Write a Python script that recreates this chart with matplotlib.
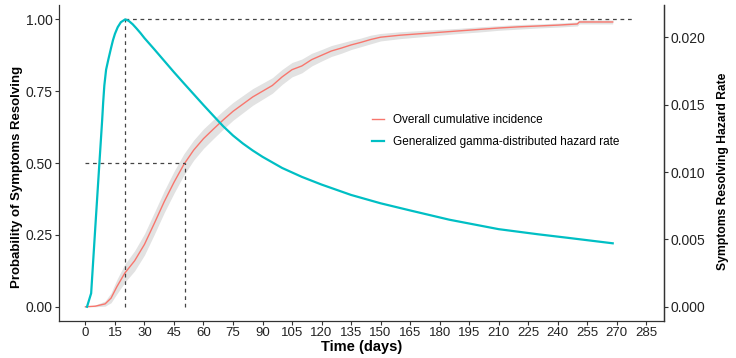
import matplotlib
matplotlib.use("Agg")
import matplotlib.pyplot as plt
from matplotlib.lines import Line2D

plt.rcParams["font.family"] = ["Liberation Sans", "DejaVu Sans"]

# Curva de incidência cumulativa
ci_days = [0, 5, 10, 13, 16, 20, 25, 30, 35, 40, 45, 50, 55, 60, 65, 70, 75, 80,
           85, 90, 95, 100, 105, 110, 115, 120, 125, 130, 135, 140, 145, 150,
           160, 170, 180, 190, 200, 210, 220, 230, 240, 250, 251, 268]
ci_value = [0.0, 0.002, 0.01, 0.03, 0.07, 0.117, 0.16, 0.217, 0.29, 0.365, 0.433,
            0.495, 0.545, 0.585, 0.618, 0.65, 0.68, 0.705, 0.73, 0.75, 0.77, 0.80,
            0.825, 0.838, 0.86, 0.875, 0.89, 0.90, 0.911, 0.92, 0.93, 0.938,
            0.945, 0.95, 0.955, 0.96, 0.965, 0.97, 0.974, 0.977, 0.98, 0.984,
            0.991, 0.991]
ci_lower = [0.0, 0.0, 0.002, 0.014, 0.045, 0.085, 0.125, 0.18, 0.252, 0.327,
            0.395, 0.458, 0.51, 0.551, 0.585, 0.618, 0.649, 0.675, 0.701, 0.722,
            0.743, 0.774, 0.8, 0.814, 0.838, 0.855, 0.871, 0.882, 0.895, 0.905,
            0.915, 0.925, 0.933, 0.939, 0.945, 0.951, 0.956, 0.962, 0.966,
            0.97, 0.973, 0.977, 0.984, 0.984]
ci_upper = [0.0, 0.006, 0.02, 0.048, 0.095, 0.148, 0.195, 0.254, 0.328, 0.403,
            0.471, 0.532, 0.58, 0.619, 0.651, 0.682, 0.711, 0.735, 0.759, 0.778,
            0.797, 0.826, 0.85, 0.862, 0.882, 0.895, 0.909, 0.918, 0.927, 0.935,
            0.945, 0.951, 0.957, 0.961, 0.965, 0.969, 0.974, 0.978, 0.982,
            0.984, 0.987, 0.991, 0.998, 0.998]

# Taxa de risco (gama generalizada)
hz_days = [0.8, 2.9, 5, 7, 8.5, 9, 9.6, 10.5, 11.7, 13, 14, 15, 16.4, 18, 20.2,
           22, 24, 26, 28, 30, 35, 40, 45, 50, 55, 60, 65, 70, 75, 80, 85, 90,
           100, 110, 120, 135, 150, 165, 185, 210, 230, 245, 268]
hz_value = [0.0, 0.00100, 0.00587, 0.01045, 0.01386, 0.01514, 0.01642, 0.01760,
            0.01839, 0.01920, 0.01979, 0.02026, 0.02075, 0.02112, 0.02133,
            0.02122, 0.02097, 0.02065, 0.02031, 0.01994, 0.01911, 0.01826,
            0.01741, 0.01659, 0.01578, 0.01497, 0.01418, 0.01340, 0.01271,
            0.01212, 0.01160, 0.01113, 0.01030, 0.00964, 0.00907, 0.00830,
            0.00768, 0.00715, 0.00646, 0.00576, 0.00538, 0.00512, 0.00471]

peak_day = 20.2
median_day = 50.8
peak_hazard = 0.02133
ref_end_day = 278

red = "#F8766D"
teal = "#00BFC4"
dash = "#444444"

fig = plt.figure(figsize=(7.36, 3.58), dpi=100)
ax = fig.add_axes([0.080, 0.103, 0.822, 0.883])
ax2 = ax.twinx()

ax.fill_between(ci_days, ci_lower, ci_upper, color="#E2E2E2", lw=0, zorder=1)
ax.plot(ci_days, ci_value, color=red, lw=1.0, zorder=2)

# linhas de referência
ax.plot([peak_day, peak_day], [0, 1], ls=(0, (3, 3)), color=dash, lw=0.9, zorder=3)
ax.plot([peak_day, ref_end_day], [1, 1], ls=(0, (3, 3)), color=dash, lw=0.9, zorder=3)
ax.plot([0, median_day], [0.5, 0.5], ls=(0, (3, 3)), color=dash, lw=0.9, zorder=3)
ax.plot([median_day, median_day], [0, 0.5], ls=(0, (3, 3)), color=dash, lw=0.9, zorder=3)

ax2.plot(hz_days, hz_value, color=teal, lw=1.6)

ax.set_xlim(-13.5, 294)
ax.set_ylim(-0.05, 1.05)
ax2.set_ylim(-0.05 * peak_hazard, 1.05 * peak_hazard)

ax.set_xticks(range(0, 286, 15))
ax.set_yticks([0, 0.25, 0.5, 0.75, 1.0])
ax.set_yticklabels(["0.00", "0.25", "0.50", "0.75", "1.00"])
ax2.set_yticks([0, 0.005, 0.01, 0.015, 0.02])
ax2.set_yticklabels(["0.000", "0.005", "0.010", "0.015", "0.020"])

for a in (ax, ax2):
    a.spines["top"].set_visible(False)
    for s in a.spines.values():
        s.set_color("#333333")
        s.set_linewidth(0.9)
    a.tick_params(colors="#333333", labelcolor="#222222", labelsize=10,
                  length=3, width=0.8, pad=1.5)
ax.tick_params(axis="x", labelsize=9.5, pad=1)

ax2.spines["left"].set_visible(False)
ax2.spines["bottom"].set_visible(False)

ax.set_xlabel("Time (days)", fontsize=10.5, fontweight="bold")
ax.xaxis.set_label_coords(0.5, -0.060)
ax.set_ylabel("Probability of Symptoms Resolving", fontsize=9.5, fontweight="bold", labelpad=1)
ax.yaxis.set_label_coords(-0.060, 0.455)
ax2.set_ylabel("Symptoms Resolving Hazard Rate", fontsize=8.7, fontweight="bold", labelpad=9)
ax2.yaxis.set_label_coords(1.087, 0.475)

handles = [Line2D([], [], color=red, lw=1.0), Line2D([], [], color=teal, lw=1.6)]
fig.legend(handles, ["Overall cumulative incidence", "Generalized gamma-distributed hazard rate"],
           loc="upper left", bbox_to_anchor=(0.491, 0.71), frameon=False,
           fontsize=8.5, handlelength=1.0, handletextpad=0.8, labelspacing=0.85)

fig.savefig("out.png", dpi=100)
plt.close(fig)
